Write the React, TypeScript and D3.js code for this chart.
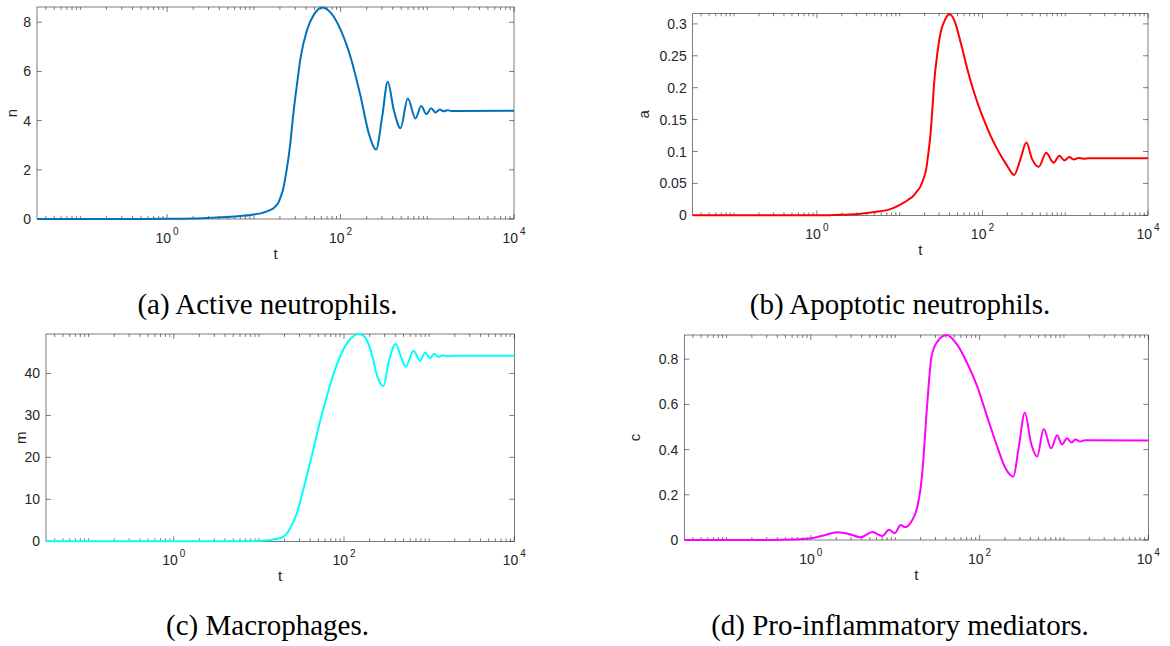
import { useRef, useEffect } from 'react'
import * as d3 from 'd3'

// time points (t) and values, one array per panel
const tN = [0.0316, 0.316, 1, 2, 3.16, 5.9, 10, 12.6, 15.8, 17, 18.2, 19.5, 20.4, 21.9, 23.4, 24.9, 26.4, 28.6, 31.8, 34.4, 41.2, 49.1, 61.4, 76.5, 100, 130, 170, 211, 257, 302, 350, 411, 491, 596, 731, 851, 979, 1109, 1245, 1393, 1538, 1711, 1901, 10000]
const nVals = [0, 0.001, 0.006, 0.02, 0.05, 0.1, 0.18, 0.25, 0.38, 0.45, 0.55, 0.72, 0.9, 1.25, 1.8, 2.4, 3.1, 4.3, 5.6, 6.5, 7.7, 8.3, 8.6, 8.4, 7.7, 6.6, 5.0, 3.5, 2.83, 4.16, 5.58, 4.43, 3.69, 4.9, 4.09, 4.59, 4.26, 4.5, 4.33, 4.45, 4.38, 4.42, 4.395, 4.4]

const tA = [0.0316, 1, 2, 3.16, 5.0, 7.9, 10.3, 12.6, 15.0, 15.8, 17.8, 19.5, 20.9, 22.1, 23.7, 25.1, 26, 28.6, 31.3, 35.5, 39.6, 45.6, 54.8, 66, 79.4, 95.5, 110, 126, 145, 166, 200, 224, 240, 288, 339, 398, 479, 589, 724, 851, 977, 1122, 1259, 1445, 1660, 1905, 10000]
const aVals = [0, 0, 0.0008, 0.002, 0.005, 0.01, 0.017, 0.024, 0.032, 0.036, 0.045, 0.058, 0.072, 0.095, 0.13, 0.175, 0.205, 0.255, 0.287, 0.307, 0.3155, 0.306, 0.27, 0.228, 0.192, 0.162, 0.142, 0.124, 0.108, 0.094, 0.077, 0.067, 0.063, 0.088, 0.114, 0.088, 0.076, 0.098, 0.0825, 0.0935, 0.0862, 0.0913, 0.0875, 0.0898, 0.0888, 0.0894, 0.0893]

const tM = [0.0316, 3.16, 8.7, 12.6, 15.1, 18, 20, 21.6, 23.4, 25.7, 28.2, 30.9, 33.9, 37.2, 44.4, 53.2, 63.8, 76.2, 91.4, 110, 132, 146, 172, 206, 247, 290, 339, 406, 465, 532, 655, 783, 897, 1019, 1148, 1288, 1445, 1660, 1905, 10000]
const mVals = [0, 0, 0.05, 0.25, 0.5, 0.8, 1.3, 2.0, 3.2, 4.8, 7.0, 9.8, 13, 16.2, 22.6, 29.2, 35.0, 40.2, 44.4, 47.4, 49.0, 49.4, 48.9, 45.5, 39.2, 37.0, 43.2, 47.0, 44.0, 41.6, 45.4, 43.0, 45.0, 43.6, 44.7, 43.9, 44.35, 44.1, 44.2, 44.2]

const tC = [0.0316, 0.316, 0.63, 1, 1.41, 2.07, 2.82, 3.9, 5.37, 7.05, 8.45, 9.86, 11.6, 13.1, 15.2, 16.7, 18.3, 20, 20.9, 24, 26.9, 31.6, 40.7, 54.5, 71.4, 94, 123, 162, 203, 251, 292, 344, 408, 481, 575, 705, 830, 951, 1091, 1230, 1368, 1549, 1778, 10000]
const cVals = [0, 0, 0.002, 0.0075, 0.02, 0.034, 0.027, 0.012, 0.035, 0.018, 0.045, 0.03, 0.066, 0.057, 0.076, 0.103, 0.147, 0.229, 0.295, 0.605, 0.81, 0.878, 0.907, 0.863, 0.782, 0.679, 0.546, 0.413, 0.317, 0.28, 0.413, 0.563, 0.428, 0.369, 0.491, 0.406, 0.463, 0.423, 0.45, 0.431, 0.445, 0.436, 0.441, 0.44]

const nTicks = [0, 2, 4, 6, 8]
const aTicks = [0, 0.05, 0.1, 0.15, 0.2, 0.25, 0.3]
const mTicks = [0, 10, 20, 30, 40]
const cTicks = [0, 0.2, 0.4, 0.6, 0.8]
const xExps = [0, 2, 4]

const tMin = Math.pow(10, -1.5)
const tMax = 1e4

const panels = [
  { t: tN, v: nVals, yTicks: nTicks, yMax: 8.62, color: '#0072BD', label: 'n',
    x0: 37, y0: 7, x1: 514, y1: 219, caption: '(a) Active neutrophils.', capX: 267.5, capY: 314 },
  { t: tA, v: aVals, yTicks: aTicks, yMax: 0.3166, color: '#FF0000', label: 'a',
    x0: 692.7, y0: 13.3, x1: 1148, y1: 215.3, caption: '(b) Apoptotic neutrophils.', capX: 900, capY: 314 },
  { t: tM, v: mVals, yTicks: mTicks, yMax: 49.4, color: '#00FFFF', label: 'm',
    x0: 46, y0: 334, x1: 514.3, y1: 541.3, caption: '(c) Macrophages.', capX: 267.5, capY: 635 },
  { t: tC, v: cVals, yTicks: cTicks, yMax: 0.907, color: '#FF00FF', label: 'c',
    x0: 684.3, y0: 335, x1: 1148.3, y1: 540, caption: '(d) Pro-inflammatory mediators.', capX: 900, capY: 635 },
]

const App = () => {
  const svgRef = useRef<SVGSVGElement>(null)

  useEffect(() => {
    const svg = d3.select(svgRef.current)
    svg.selectAll('*').remove()

    const axisColor = '#262626'
    const font = '"Liberation Sans", Arial, sans-serif'

    panels.forEach(p => {
      const x = d3.scaleLog().domain([tMin, tMax]).range([p.x0, p.x1])
      const y = d3.scaleLinear().domain([0, p.yMax]).range([p.y1, p.y0])
      const g = svg.append('g')

      // minor ticks on log axis (every m*10^k not labelled)
      const minor: number[] = []
      for (let k = -2; k <= 3; k++) {
        for (let m = 1; m <= 9; m++) {
          const v = m * Math.pow(10, k)
          if (v < tMin || v > tMax) continue
          if (m === 1 && xExps.includes(k)) continue
          minor.push(v)
        }
      }
      const major = xExps.map(e => Math.pow(10, e))

      const tickPath = (xs: number[], len: number) =>
        xs.map(v => `M${x(v)},${p.y1}v${-len}M${x(v)},${p.y0}v${len}`).join('')

      g.append('path').attr('d', tickPath(minor, 3))
        .attr('stroke', axisColor).attr('stroke-width', 0.6).attr('fill', 'none')
      g.append('path').attr('d', tickPath(major, 5))
        .attr('stroke', axisColor).attr('stroke-width', 0.6).attr('fill', 'none')
      g.append('path')
        .attr('d', p.yTicks.map(v => `M${p.x0},${y(v)}h5M${p.x1},${y(v)}h-5`).join(''))
        .attr('stroke', axisColor).attr('stroke-width', 0.6).attr('fill', 'none')

      // box
      g.append('rect')
        .attr('x', p.x0).attr('y', p.y0)
        .attr('width', p.x1 - p.x0).attr('height', p.y1 - p.y0)
        .attr('fill', 'none').attr('stroke', axisColor).attr('stroke-width', 0.6)

      // y tick labels
      g.selectAll('.ylab').data(p.yTicks).enter().append('text')
        .attr('x', p.x0 - 6).attr('y', d => y(d)).attr('dy', '0.36em')
        .attr('text-anchor', 'end')
        .style('font-family', font).style('font-size', '14px').attr('fill', axisColor)
        .text(d => String(d))

      // x tick labels 10^k
      xExps.forEach(e => {
        const tx = g.append('text')
          .attr('x', x(Math.pow(10, e))).attr('y', p.y1 + 24)
          .attr('text-anchor', 'middle')
          .style('font-family', font).style('font-size', '14px').attr('fill', axisColor)
        tx.append('tspan').text('10')
        tx.append('tspan').attr('dx', 2).attr('dy', -8).style('font-size', '10px').text(String(e))
      })

      // axis labels
      g.append('text')
        .attr('x', (p.x0 + p.x1) / 2).attr('y', p.y1 + 40)
        .attr('text-anchor', 'middle')
        .style('font-family', font).style('font-size', '15px').attr('fill', axisColor)
        .text('t')
      const ylx = p.x0 - (p.yTicks.some(v => String(v).length > 2) ? 44 : 20)
      g.append('text')
        .attr('transform', `translate(${ylx},${(p.y0 + p.y1) / 2}) rotate(-90)`)
        .attr('text-anchor', 'middle')
        .style('font-family', font).style('font-size', '15px').attr('fill', axisColor)
        .text(p.label)

      // curve
      const pts = p.t.map((t, i) => [t, p.v[i]] as [number, number])
      const line = d3.line<[number, number]>()
        .x(d => x(d[0])).y(d => y(d[1]))
        .curve(d3.curveMonotoneX)
      g.append('path').datum(pts)
        .attr('d', line)
        .attr('fill', 'none').attr('stroke', p.color).attr('stroke-width', 2)

      // caption
      g.append('text')
        .attr('x', p.capX).attr('y', p.capY)
        .attr('text-anchor', 'middle')
        .style('font-family', '"Liberation Serif", "Times New Roman", serif')
        .style('font-size', '29px').attr('fill', '#000')
        .text(p.caption)
    })
  }, [])

  return (
    <svg ref={svgRef} width={1170} height={646}
      style={{ position: 'absolute', left: 0, top: 0, background: '#fff' }}></svg>
  )
}

export default App
